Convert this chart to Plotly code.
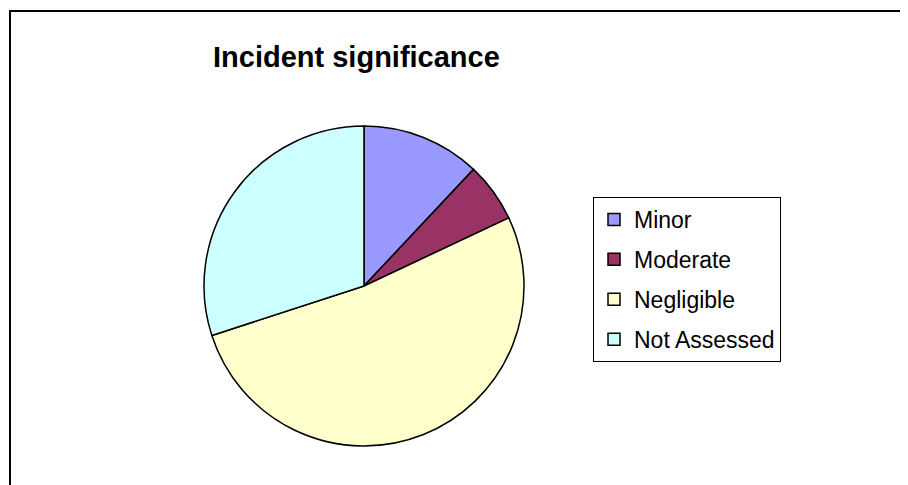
import plotly.graph_objects as go

categories = ["Minor", "Moderate", "Negligible", "Not Assessed"]
counts = [6, 3, 26, 15]
colors = ["#9999FF", "#993366", "#FFFFCC", "#CCFFFF"]
title_text = "Incident significance"

# page body has an 8px margin; figure coordinates below are relative to the figure
W, H = 900, 477
cx, cy, r = 356, 278, 160

fig = go.Figure()
fig.add_trace(go.Pie(
    labels=categories, values=counts, sort=False, direction="clockwise", rotation=0,
    marker=dict(colors=colors, line=dict(color="black", width=1.5)),
    textinfo="none", hoverinfo="label+value+percent", showlegend=False,
    domain=dict(x=[(cx - r) / W, (cx + r) / W], y=[(H - cy - r) / H, (H - cy + r) / H]),
))
for i, (cat, col) in enumerate(zip(categories, colors)):
    fig.add_trace(go.Scatter(
        x=[None], y=[None], mode="markers", name=cat, legendgroup=f"g{i}",
        marker=dict(symbol="square", size=12, color=col, line=dict(color="black", width=1.5)),
    ))

fig.update_layout(
    width=W, height=H, margin=dict(l=0, r=0, t=0, b=0),
    paper_bgcolor="white", plot_bgcolor="white",
    font=dict(family="Liberation Sans, Arial, sans-serif", color="black"),
    xaxis=dict(visible=False), yaxis=dict(visible=False),
    showlegend=True,
    legend=dict(
        x=585 / W, y=1 - 189 / H, xanchor="left", yanchor="top",
        bordercolor="black", borderwidth=1, bgcolor="white",
        font=dict(size=23), tracegroupgap=7, itemsizing="trace",
    ),
    annotations=[dict(
        text=f"<b>{title_text}</b>", x=348 / W, y=1 - 49 / H, xref="paper", yref="paper",
        xanchor="center", yanchor="middle", showarrow=False, font=dict(size=29),
    )],
    shapes=[dict(
        type="rect", xref="paper", yref="paper",
        x0=2 / W, x1=1.02, y0=-0.02, y1=1 - 3 / H,
        line=dict(color="black", width=2), fillcolor="rgba(0,0,0,0)", layer="below",
    )],
)
fig.write_html("out.html")
